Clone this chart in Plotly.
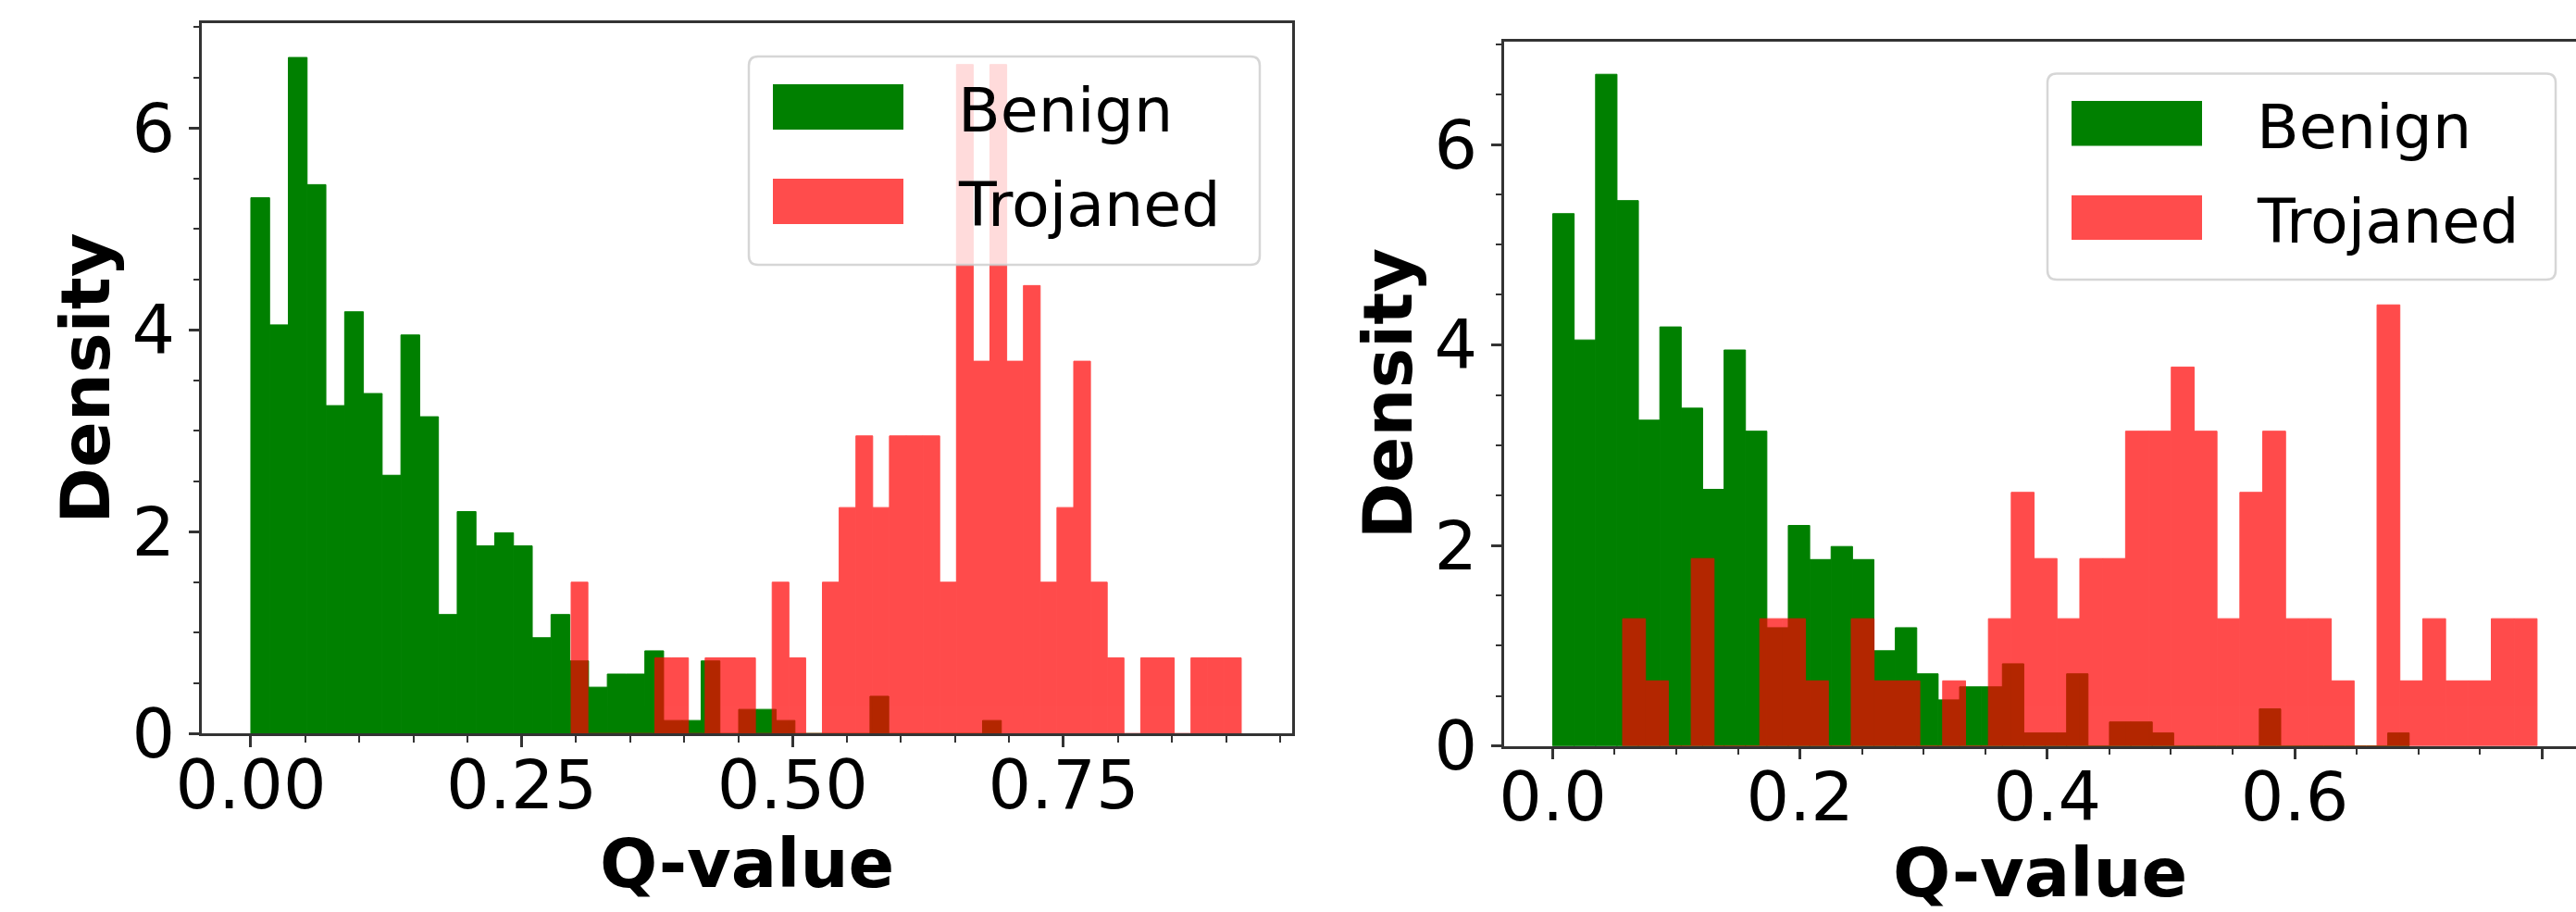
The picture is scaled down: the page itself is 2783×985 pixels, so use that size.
import numpy as np
import plotly.graph_objects as go

# ---------------- data (density per bin, 40 bins) ----------------
series_names = ["Benign", "Trojaned"]
x_title = "Q-value"
y_title = "Density"

# Benign Q-values (same histogram in both panels)
benign_min, benign_max = 0.0, 0.6926
benign_density = [5.31, 4.05, 6.70, 5.44, 3.25, 4.18, 3.37, 2.56, 3.95, 3.14,
                  1.18, 2.20, 1.86, 1.99, 1.86, 0.95, 1.18, 0.72, 0.46, 0.59,
                  0.59, 0.82, 0.13, 0.13, 0.72, 0.00, 0.24, 0.24, 0.13, 0.00,
                  0.00, 0.00, 0.00, 0.37, 0.00, 0.00, 0.00, 0.00, 0.00, 0.13]

# Trojaned Q-values, left panel
trojan_left_min, trojan_left_max = 0.2956, 0.914
trojan_left_density = [1.50, 0.00, 0.00, 0.00, 0.00, 0.75, 0.75, 0.00, 0.75, 0.75,
                       0.75, 0.00, 1.50, 0.75, 0.00, 1.50, 2.24, 2.95, 2.24, 2.95,
                       2.95, 2.95, 1.50, 6.63, 3.69, 6.63, 3.69, 4.44, 1.50, 2.24,
                       3.69, 1.50, 0.75, 0.00, 0.75, 0.75, 0.00, 0.75, 0.75, 0.75]

# Trojaned Q-values, right panel
trojan_right_min, trojan_right_max = 0.0565, 0.796
trojan_right_density = [1.27, 0.65, 0.00, 1.87, 0.00, 0.00, 1.27, 1.27, 0.65, 0.00,
                        1.27, 0.65, 0.65, 0.00, 0.65, 0.00, 1.27, 2.53, 1.87, 1.27,
                        1.87, 1.87, 3.14, 3.14, 3.78, 3.14, 1.27, 2.53, 3.14, 1.27,
                        1.27, 0.65, 0.00, 4.40, 0.65, 1.27, 0.65, 0.65, 1.27, 1.27]

left_xticks = [0.0, 0.25, 0.5, 0.75]
right_xticks = [0.0, 0.2, 0.4, 0.6, 0.8]
yticks = [0, 2, 4, 6]

# ---------------- styling ----------------
W, H = 2783, 985
GREEN = "#008000"
RED = "#ff0000"
SPINE = "#333333"
FONT = "DejaVu Sans"
TICK_SIZE = 73.3
LEG_SIZE = 66.7


def px_x(p):
    return p / W


def px_y(p):
    return 1 - p / H


def bins(lo, hi, dens):
    n = len(dens)
    edges = np.linspace(lo, hi, n + 1)
    return (edges[:-1] + edges[1:]) / 2, (hi - lo) / n


fig = go.Figure()


def add_hist(lo, hi, dens, name, color, opacity, xa, ya):
    centers, width = bins(lo, hi, dens)
    fig.add_trace(go.Bar(
        x=centers, y=dens, width=width, name=name,
        marker=dict(color=color, line=dict(width=1, color=color)), opacity=opacity,
        xaxis=xa, yaxis=ya, showlegend=False,
    ))


add_hist(benign_min, benign_max, benign_density, series_names[0], GREEN, 1.0, "x", "y")
add_hist(trojan_left_min, trojan_left_max, trojan_left_density, series_names[1], RED, 0.7, "x", "y")
add_hist(benign_min, benign_max, benign_density, series_names[0], GREEN, 1.0, "x2", "y2")
add_hist(trojan_right_min, trojan_right_max, trojan_right_density, series_names[1], RED, 0.7, "x2", "y2")

common_axis = dict(
    showline=True, linecolor=SPINE, linewidth=2.7,
    ticks="outside", ticklen=11.7, tickwidth=2.7, tickcolor=SPINE,
    tickfont=dict(family=FONT, size=TICK_SIZE, color="black"),
    showgrid=False, zeroline=False, automargin=False,
)
title_font = dict(family=FONT, size=TICK_SIZE, color="black", weight="bold")


def minor(dt):
    return dict(dtick=dt, ticks="outside", ticklen=6.7, tickwidth=2, tickcolor=SPINE, showgrid=False)


fig.update_layout(
    width=W, height=H, autosize=False,
    margin=dict(l=0, r=0, t=0, b=0),
    paper_bgcolor="white", plot_bgcolor="white",
    barmode="overlay",
    font=dict(family=FONT, color="black"),
    xaxis=dict(common_axis, domain=[px_x(218.3), px_x(1396)], range=[-0.045, 0.961],
               anchor="y", mirror=True, tickvals=left_xticks,
               ticktext=[f"{v:.2f}" for v in left_xticks], minor=minor(0.05),
               ticklabelstandoff=-22,
               title=dict(text=x_title, font=title_font, standoff=2)),
    yaxis=dict(common_axis, domain=[px_y(792.3), px_y(25)], range=[0, 7.04],
               anchor="x", mirror=True, tickvals=yticks, minor=minor(0.5),
               title=dict(text=y_title, font=title_font, standoff=0)),
    xaxis2=dict(common_axis, domain=[px_x(1625.3), 1.0], range=[-0.0391, 0.8275],
                anchor="y2", mirror=True, tickvals=right_xticks,
                ticktext=[f"{v:.1f}" for v in right_xticks], minor=minor(0.05),
                ticklabelstandoff=-22,
                title=dict(text=x_title, font=title_font, standoff=2)),
    yaxis2=dict(common_axis, domain=[px_y(805.7), px_y(44.5)], range=[0, 7.03],
                anchor="x2", mirror=False, tickvals=yticks, minor=minor(0.5),
                title=dict(text=y_title, font=title_font, standoff=0)),
)


# ---------------- legends (drawn as boxes with matplotlib-like wide patches) ----------------
def rounded_box(x0, y0, x1, y1, r):
    rx, ry = r / W, r / H
    X0, X1 = px_x(x0), px_x(x1)
    Y0, Y1 = px_y(y0), px_y(y1)  # Y0 top, Y1 bottom
    return (f"M{X0 + rx},{Y0} L{X1 - rx},{Y0} Q{X1},{Y0} {X1},{Y0 - ry} "
            f"L{X1},{Y1 + ry} Q{X1},{Y1} {X1 - rx},{Y1} L{X0 + rx},{Y1} "
            f"Q{X0},{Y1} {X0},{Y1 + ry} L{X0},{Y0 - ry} Q{X0},{Y0} {X0 + rx},{Y0} Z")


def add_legend(bx0, by0, bx1, by1, rows):
    fig.add_shape(type="path", path=rounded_box(bx0, by0, bx1, by1, 10),
                  xref="paper", yref="paper", layer="above",
                  fillcolor="rgba(255,255,255,0.8)",
                  line=dict(color="rgba(204,204,204,0.8)", width=2.5))
    for (sy0, sy1, ty), name, color, op in zip(rows, series_names, [GREEN, RED], [1.0, 0.7]):
        fig.add_shape(type="rect", xref="paper", yref="paper", layer="above",
                      x0=px_x(bx0 + 26), x1=px_x(bx0 + 167), y0=px_y(sy1), y1=px_y(sy0),
                      fillcolor=color, opacity=op, line=dict(width=0))
        fig.add_annotation(text=name, xref="paper", yref="paper",
                           x=px_x(bx0 + 224), y=px_y(ty), xanchor="left", yanchor="middle",
                           showarrow=False, font=dict(family=FONT, size=LEG_SIZE, color="black"))


add_legend(809, 61, 1361, 286, [(91, 140, 119), (193, 242, 221)])
add_legend(2212, 79.5, 2761, 302, [(109, 157.5, 137), (211, 259, 239)])

fig.write_html("out.html", config={"displayModeBar": False},
               post_script="document.body.style.margin='0';document.body.style.overflow='hidden';")
